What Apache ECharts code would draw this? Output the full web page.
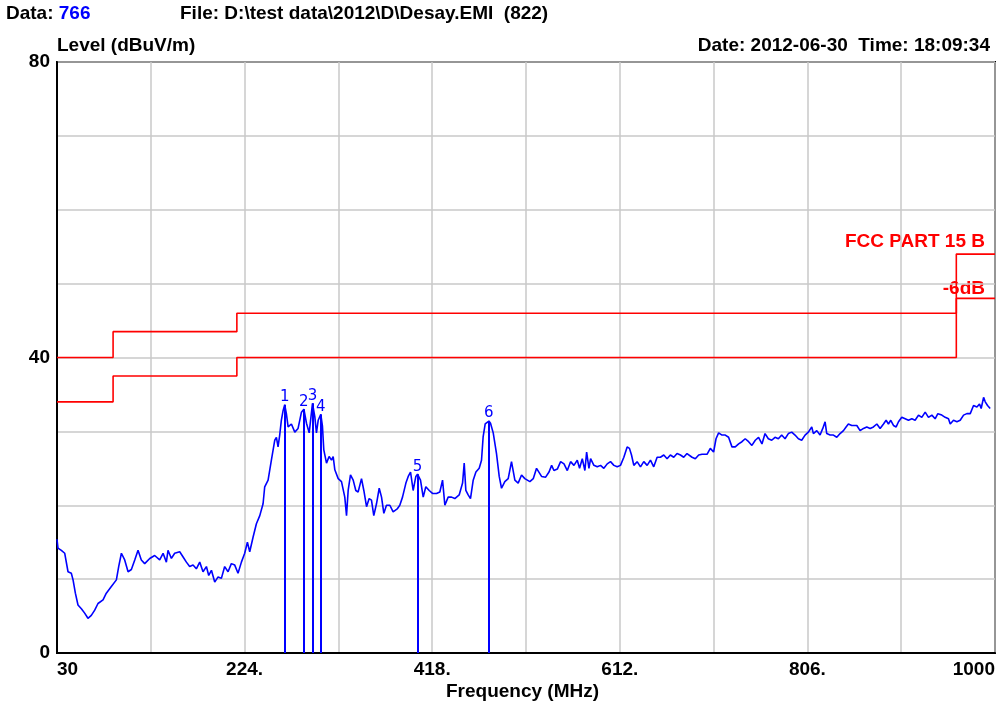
<!DOCTYPE html>
<html>
<head>
<meta charset="utf-8">
<script src="https://cdn.jsdelivr.net/npm/echarts@6.0.0/dist/echarts.min.js"></script>
<style>
html,body{margin:0;padding:0;background:#fff;}
#chart{width:1008px;height:709px;}
</style>
</head>
<body>
<div id="chart"></div>
<script>
// ---- Data ----
const freqs = [30,31,34.5,38,41.4,44.8,46.6,49,51.7,55.2,58.6,62,65.5,69,72.4,77.6,81,86.2,91.4,93.8,96.6,100,103.5,106.9,110.4,113.8,117.2,120.7,125.9,131,136.2,139.7,143.1,144.8,148.3,151.7,156.9,160.4,163.8,167.2,170.7,174.1,177.6,181,184.5,186.9,189.7,193.1,196.6,200,203.4,206.9,210.3,213.8,217.2,220.7,224.1,226.9,229.3,232.8,236.2,239.7,243.1,244.8,248.3,251.7,255.2,256.9,258.6,260.3,262,263.8,265.5,267.2,269,272.4,275.9,279.3,282.8,285.3,288,290.8,294.2,296.6,298.3,300.1,302.8,304.5,305.9,308.7,311.4,313.9,315.6,317.3,320.8,324.2,327.6,329.4,331.1,333.5,336.3,339,341.4,344.9,347.3,350.1,352.8,355.2,357.6,360.4,363.2,365.6,368,370.7,374.2,377.6,381.8,384.5,387.3,390.8,393.2,395.6,398.3,401.1,402.8,405.9,408.7,411.4,414.9,418.3,422.5,425.9,428.7,431.1,434.5,438,441.4,445.9,449.4,451.1,452.8,455.2,457.6,460.4,463.2,466.6,469,470.7,472.8,476.6,478.3,481.1,484.5,487.3,489.7,493.1,496.6,500,503.5,506.9,510.4,513.8,519,522.5,525.9,531.1,535.3,538.8,541.5,543.9,547.4,550.8,554.3,557.7,561.1,564.6,568,570.4,573.2,575.9,577.7,580.1,581.8,585.2,588.7,592.1,595.5,599,602.4,605.9,609.3,612.7,616.2,619.6,622,624.1,626.5,629.9,633.4,636.8,640.3,643.7,647.1,650.6,654,657.5,660.9,664.3,667.8,671.2,674.7,678.1,681.5,683.3,686.7,690.1,693.6,697,702.2,705.6,709,711.5,714.2,717.7,721.1,724.5,728,731.4,734.9,738.3,741.7,745.2,748.6,752.1,755.5,759,762.2,765.6,769.1,772.5,776,779.4,782.9,786.3,789.8,793.2,796.7,800.1,803.6,807,810.5,812.2,815.7,819.1,821.9,824.3,826,829.5,832.9,836.4,839.8,843.3,846,848.4,851.9,857.1,860.5,864,867.4,870.9,874.3,877.8,881.2,884.7,887.4,889.8,892.2,895,897.8,900.2,903.6,907.1,910.5,914,917.4,920.9,924.3,927.8,931.2,934.7,938.1,940.9,945,948.5,951.9,953.7,957.1,960.6,964,967.5,970.9,974.4,977.8,981.3,984,985.7,988.2,989.9,992.3,995];
const levels = [15.4,14.2,13.9,13.5,11.0,10.8,9.9,8.1,6.5,6.0,5.4,4.7,5.1,5.8,6.7,7.2,8.1,9.0,9.9,11.7,13.5,12.6,11.0,11.3,12.6,13.9,12.6,12.1,12.8,13.2,12.6,13.5,12.3,13.9,12.8,13.5,13.7,13.0,12.3,11.7,11.9,11.4,12.3,11.0,11.7,10.5,11.2,9.6,10.3,10.1,11.7,11.0,12.1,11.9,10.8,12.3,13.5,15.0,13.7,15.7,17.5,18.6,20.2,22.5,23.4,26.1,28.8,29.2,27.9,29.5,31.5,32.8,33.6,32.4,30.6,31.0,29.9,30.4,32.6,33.0,31.1,29.8,33.8,32.0,29.8,31.5,32.3,30.7,27.5,25.7,26.6,26.1,26.6,24.8,23.6,23.2,21.1,18.6,22.0,24.1,23.4,22.0,21.8,23.6,22.0,19.8,20.9,20.7,18.6,20.2,22.3,21.1,18.9,20.0,20.0,19.1,19.5,20.0,21.1,23.0,23.9,24.5,22.0,23.9,24.2,23.4,21.1,22.5,22.0,21.6,21.6,21.8,23.4,20.0,21.1,21.1,20.9,21.4,23.0,25.7,22.0,21.4,20.9,23.4,24.5,25.0,26.1,29.3,31.0,31.4,31.1,29.8,27.0,23.9,22.3,23.2,23.6,25.9,23.4,23.0,24.1,23.6,23.2,23.6,25.0,23.9,23.8,24.5,25.4,24.7,24.9,25.9,25.6,24.7,25.9,25.4,26.1,25.0,26.3,24.7,27.2,25.0,26.3,25.4,25.2,25.4,25.0,25.6,25.9,25.4,25.2,25.4,26.5,27.9,27.7,26.8,25.4,25.9,25.2,25.9,25.4,26.1,25.2,26.5,26.5,26.8,26.3,26.8,26.5,27.0,26.8,26.5,27.0,27.2,26.5,26.3,26.8,26.9,26.9,27.7,27.2,29.0,29.8,29.5,29.5,29.2,27.9,27.9,28.3,28.6,29.0,28.6,28.1,28.8,29.2,28.3,29.7,29.0,28.8,29.2,29.0,29.5,29.0,29.7,29.9,29.5,29.0,28.8,29.5,29.9,30.6,29.7,30.1,29.5,30.4,31.3,29.7,29.5,29.5,29.2,29.7,30.1,30.6,31.0,30.8,30.8,30.1,30.4,30.6,30.4,30.6,31.0,30.4,31.0,31.5,31.0,31.5,30.8,30.6,31.3,31.9,31.7,31.5,31.7,31.5,32.2,31.9,32.6,31.9,32.2,31.7,32.4,32.2,31.9,31.7,31.0,31.5,31.3,31.5,32.2,32.4,32.4,33.5,33.3,33.7,33.1,34.6,34.0,33.5,33.1];

const peakFreqs  = [265.5, 285.3, 294.2, 302.8, 402.8, 476.6];
const peakLevels = [33.6, 33.0, 33.8, 32.3, 24.2, 31.4];
const peakLabels = ['1','2','3','4','5','6'];

const limitFreqs  = [30, 88, 88, 216, 216, 960, 960, 1000];
const limitLevels = [40, 40, 43.5, 43.5, 46, 46, 54, 54];
const marginLevels = [34, 34, 37.5, 37.5, 40, 40, 48, 48];

const xLabelValues = [30, 224, 418, 612, 806, 1000];
const xLabelTexts  = ['30', '224.', '418.', '612.', '806.', '1000'];
const yLabelValues = [0, 40, 80];
const yLabelTexts  = ['0', '40', '80'];

// ---- Chart ----
const FONT = '"Liberation Sans", Arial, sans-serif';
const FS = 19;
const chart = echarts.init(document.getElementById('chart'), null, {renderer: 'canvas'});

const traceData = freqs.map((f, i) => [f, levels[i]]);
const limitData = limitFreqs.map((f, i) => [f, limitLevels[i]]);
const marginData = limitFreqs.map((f, i) => [f, marginLevels[i]]);
const peakLines = peakFreqs.map((f, i) => [
  {coord: [f, 0]},
  {coord: [f, peakLevels[i]], label: {formatter: peakLabels[i]}}
]);

function xFmt(v) {
  for (let i = 0; i < xLabelValues.length; i++) {
    if (Math.abs(v - xLabelValues[i]) < 0.5) return xLabelTexts[i];
  }
  return '';
}
function yFmt(v) {
  for (let i = 0; i < yLabelValues.length; i++) {
    if (Math.abs(v - yLabelValues[i]) < 0.01) return yLabelTexts[i];
  }
  return '';
}

const option = {
  animation: false,
  backgroundColor: '#fff',
  grid: {left: 57, right: 13, top: 62, bottom: 56, show: true, borderColor: '#000', borderWidth: 2, outerBoundsMode: 'none', containLabel: false},
  xAxis: {
    type: 'value', min: 30, max: 1000, interval: 97,
    axisLine: {show: true, lineStyle: {color: '#000', width: 2}},
    axisTick: {show: false},
    splitLine: {show: true, lineStyle: {color: '#c8c8c8', width: 1.5}},
    axisLabel: {formatter: xFmt, color: '#000', fontFamily: FONT, fontWeight: 'bold', fontSize: FS, margin: 7, alignMinLabel: 'left', alignMaxLabel: 'right', showMinLabel: true, showMaxLabel: true, hideOverlap: false}
  },
  yAxis: {
    type: 'value', min: 0, max: 80, interval: 10,
    axisLine: {show: true, lineStyle: {color: '#000', width: 2}},
    axisTick: {show: false},
    splitLine: {show: true, lineStyle: {color: '#c8c8c8', width: 1.5}},
    axisLabel: {formatter: yFmt, color: '#000', fontFamily: FONT, fontWeight: 'bold', fontSize: FS, margin: 7, showMinLabel: true, showMaxLabel: true}
  },
  series: [
    {type: 'line', data: limitData, showSymbol: false, silent: true, lineStyle: {color: '#ff0000', width: 1.6}, z: 3},
    {type: 'line', data: marginData, showSymbol: false, silent: true, lineStyle: {color: '#ff0000', width: 1.6}, z: 3},
    {type: 'line', data: traceData, showSymbol: false, silent: true, lineStyle: {color: '#0000ff', width: 1.6}, z: 4,
     markLine: {silent: true, symbol: ['none', 'none'], animation: false,
       lineStyle: {color: '#0000ff', width: 2, type: 'solid'},
       label: {show: true, position: 'end', color: '#0000ff', fontFamily: '"DejaVu Sans", sans-serif', fontSize: 15, distance: 0},
       emphasis: {disabled: true},
       data: peakLines}
    }
  ],
  graphic: [
    {type: 'text', left: 6, top: 4, style: {text: '{a|Data: }{b|766}', rich: {a: {fontFamily: FONT, fontWeight: 'bold', fontSize: FS, fill: '#000'}, b: {fontFamily: FONT, fontWeight: 'bold', fontSize: FS, fill: '#0000ff'}}}},
    {type: 'text', left: 180, top: 4, style: {text: 'File: D:\\test data\\2012\\D\\Desay.EMI  (822)', fontFamily: FONT, fontWeight: 'bold', fontSize: FS, fill: '#000'}},
    {type: 'text', left: 57, top: 36, style: {text: 'Level (dBuV/m)', fontFamily: FONT, fontWeight: 'bold', fontSize: FS, fill: '#000'}},
    {type: 'text', right: 18, top: 36, style: {text: 'Date: 2012-06-30  Time: 18:09:34', fontFamily: FONT, fontWeight: 'bold', fontSize: FS, fill: '#000'}},
    {type: 'text', left: 446, top: 682, style: {text: 'Frequency (MHz)', fontFamily: FONT, fontWeight: 'bold', fontSize: FS, fill: '#000'}},
    {type: 'text', right: 23, top: 232, style: {text: 'FCC PART 15 B', fontFamily: FONT, fontWeight: 'bold', fontSize: FS, fill: '#ff0000'}},
    {type: 'text', right: 23, top: 279, style: {text: '-6dB', fontFamily: FONT, fontWeight: 'bold', fontSize: FS, fill: '#ff0000'}}
  ]
};
chart.setOption(option);
</script>
</body>
</html>
